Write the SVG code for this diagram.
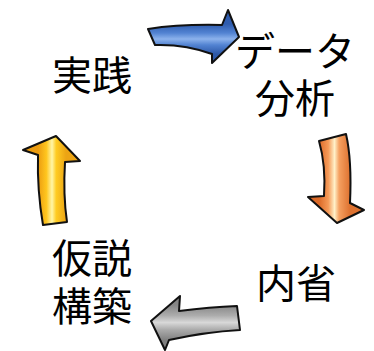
<svg xmlns="http://www.w3.org/2000/svg" width="374" height="351" viewBox="0 0 374 351">
<style>
.t{font-family:"Noto Sans CJK JP","Noto Sans CJK SC",sans-serif;font-size:40px;fill:#000;text-anchor:middle}
.a{stroke:#111;stroke-width:2;stroke-linejoin:round}
</style>
<defs>
<linearGradient id="gBlue" gradientUnits="userSpaceOnUse" x1="0" y1="24" x2="0" y2="54">
<stop offset="0" stop-color="#2f5cae"/><stop offset="0.3" stop-color="#5283d2"/><stop offset="0.5" stop-color="#8cb2ec"/><stop offset="0.7" stop-color="#5283d2"/><stop offset="1" stop-color="#2d58a8"/>
</linearGradient>
<linearGradient id="gOrange" gradientUnits="userSpaceOnUse" x1="319" y1="0" x2="350" y2="0">
<stop offset="0" stop-color="#dc6a28"/><stop offset="0.3" stop-color="#f59a58"/><stop offset="0.5" stop-color="#fff0c8"/><stop offset="0.65" stop-color="#f5a060"/><stop offset="1" stop-color="#de7230"/>
</linearGradient>
<linearGradient id="gYellow" gradientUnits="userSpaceOnUse" x1="38" y1="0" x2="66" y2="0">
<stop offset="0" stop-color="#eb9c10"/><stop offset="0.3" stop-color="#ffc61e"/><stop offset="0.5" stop-color="#fff6a8"/><stop offset="0.65" stop-color="#ffcc22"/><stop offset="1" stop-color="#eca414"/>
</linearGradient>
<linearGradient id="gGray" gradientUnits="userSpaceOnUse" x1="0" y1="305" x2="0" y2="340">
<stop offset="0" stop-color="#858585"/><stop offset="0.3" stop-color="#acacac"/><stop offset="0.5" stop-color="#d8d8d8"/><stop offset="0.7" stop-color="#acacac"/><stop offset="1" stop-color="#808080"/>
</linearGradient>
</defs>
<g id="connectors">
<path class="a" fill="url(#gBlue)" d="M148,29 Q180,24 222,25 L228,10 L239,37 L212,63 L212,54 Q185,44 155,45 Z"/>
<path class="a" fill="url(#gOrange)" d="M319,141 Q326,165 324,196 L308,197 L337,223 L364,210 L350,203 Q352,160 346,134 Z"/>
<path class="a" fill="url(#gGray)" d="M151,321 L180,296 L179,311 Q210,307 237,306 L240,330 Q205,332 169,340 L165,350 Z"/>
<path class="a" fill="url(#gYellow)" d="M23,150 L56,136 L80,161 L65,162 Q63,195 67,222 L43,225 Q37,190 38,155 Z"/>
</g>
<g id="node-data"><text class="t" x="295" y="66">データ</text><text class="t" x="295" y="113">分析</text></g>
<g id="node-naisei"><text class="t" x="296" y="298">内省</text></g>
<g id="node-kasetsu"><text class="t" x="92" y="273">仮説</text><text class="t" x="92" y="321">構築</text></g>
<g id="node-jissen"><text class="t" x="92" y="90">実践</text></g>
</svg>
